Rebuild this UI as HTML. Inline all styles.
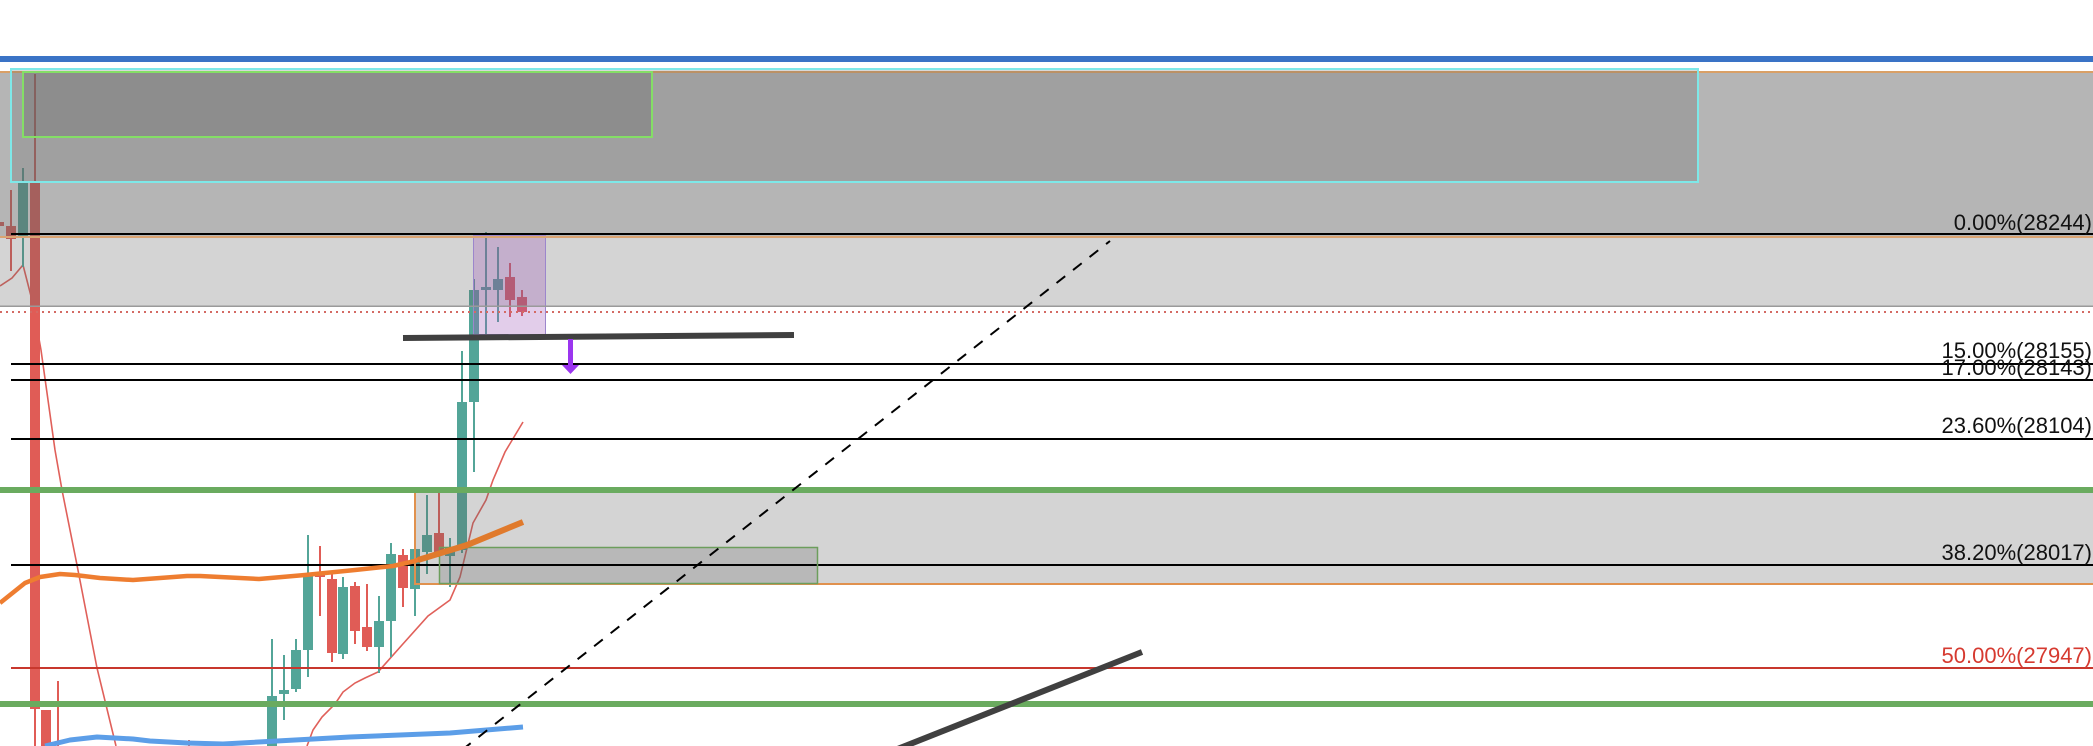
<!DOCTYPE html>
<html>
<head>
<meta charset="utf-8">
<style>
  html,body{margin:0;padding:0;background:#fff;overflow:hidden;}
  svg{display:block;}
  text{font-family:"Liberation Sans",sans-serif;font-size:22px;}
</style>
</head>
<body>
<svg width="2093" height="746" viewBox="0 0 2093 746" xmlns="http://www.w3.org/2000/svg">
  <rect x="0" y="0" width="2093" height="746" fill="#ffffff"/>

  <!-- orange top line (under overlays) -->
  <rect x="0" y="71" width="2093" height="2" fill="#d9a066"/>

  <!-- red EMA thin (under overlays) -->
  <polyline fill="none" stroke="#e0605a" stroke-width="1.6" points="0,286 12,278 23,265 32,300 41,350 55,450 62,490 77,565 97,668 116,746"/>
  <polyline fill="none" stroke="#e0605a" stroke-width="1.6" points="307,746 313,730 322,717 335,704 343,692 355,683 365,678 378,672 402,645 428,616 450,600 460,577 473,523 486,500 493,480 505,452 523,422"/>

  <!-- candles -->
  <g fill="#e05c56">
    <rect x="0" y="222" width="4" height="4"/>
    <rect x="10" y="190" width="2" height="81"/><rect x="6" y="226" width="10" height="13"/>
    <rect x="34" y="74" width="2" height="109"/><rect x="30" y="183" width="10" height="526"/>
    <rect x="34" y="709" width="2" height="37"/>
    <rect x="41" y="710" width="10" height="36"/>
    <rect x="57" y="681" width="2" height="65"/>
    <rect x="188" y="740" width="2" height="6"/>
    <rect x="319" y="546" width="2" height="70"/><rect x="315" y="574" width="10" height="3"/>
    <rect x="331" y="574" width="2" height="88"/><rect x="327" y="579" width="10" height="74"/>
    <rect x="354" y="582" width="2" height="62"/><rect x="350" y="586" width="10" height="45"/>
    <rect x="366" y="584" width="2" height="67"/><rect x="362" y="627" width="10" height="20"/>
    <rect x="402" y="549" width="2" height="58"/><rect x="398" y="555" width="10" height="33"/>
    <rect x="438" y="493" width="2" height="64"/><rect x="434" y="533" width="10" height="22"/>
    <rect x="509" y="263" width="2" height="54"/><rect x="505" y="277" width="10" height="23"/>
    <rect x="521" y="290" width="2" height="26"/><rect x="517" y="297" width="10" height="15"/>
  </g>
  <g fill="#53a598">
    <rect x="22" y="168" width="2" height="99"/><rect x="18" y="183" width="10" height="54"/>
    <rect x="271" y="639" width="2" height="107"/><rect x="267" y="696" width="10" height="50"/>
    <rect x="283" y="655" width="2" height="65"/><rect x="279" y="690" width="10" height="4"/>
    <rect x="295" y="639" width="2" height="53"/><rect x="291" y="650" width="10" height="39"/>
    <rect x="307" y="535" width="2" height="142"/><rect x="303" y="576" width="10" height="74"/>
    <rect x="342" y="577" width="2" height="82"/><rect x="338" y="587" width="10" height="67"/>
    <rect x="378" y="596" width="2" height="77"/><rect x="374" y="621" width="10" height="26"/>
    <rect x="390" y="543" width="2" height="114"/><rect x="386" y="554" width="10" height="67"/>
    <rect x="414" y="540" width="2" height="76"/><rect x="410" y="549" width="10" height="40"/>
    <rect x="426" y="495" width="2" height="79"/><rect x="422" y="535" width="10" height="17"/>
    <rect x="449" y="538" width="2" height="49"/><rect x="445" y="548" width="10" height="8"/>
    <rect x="461" y="351" width="2" height="202"/><rect x="457" y="402" width="10" height="148"/>
    <rect x="473" y="279" width="2" height="193"/><rect x="469" y="290" width="10" height="112"/>
    <rect x="485" y="232" width="2" height="103"/><rect x="481" y="287" width="10" height="3"/>
    <rect x="497" y="247" width="2" height="75"/><rect x="493" y="279" width="10" height="11"/>
  </g>

  <!-- overlays -->
  <rect x="0" y="73" width="2093" height="163" fill="rgba(100,100,100,0.48)"/>
  <rect x="0" y="238" width="2093" height="68" fill="rgba(100,100,100,0.277)"/>
  <rect x="10" y="68" width="1688" height="115" fill="rgba(100,100,100,0.25)"/>
  <rect x="23" y="72" width="629" height="65" fill="rgba(100,100,100,0.3)"/>
  <rect x="415" y="493" width="1678" height="91" fill="rgba(100,100,100,0.277)"/>
  <rect x="439" y="547" width="379" height="37" fill="rgba(100,100,100,0.25)"/>
  <rect x="473.5" y="235.5" width="72" height="99" fill="rgba(158,88,185,0.3)" stroke="#9c86cc" stroke-width="1"/>

  <!-- top blue line -->
  <rect x="0" y="56" width="2093" height="6" fill="#3a73c6"/>

  <!-- rect borders -->
  <rect x="11" y="69" width="1687" height="113" fill="none" stroke="#7ee8e8" stroke-width="2"/>
  <rect x="23" y="72" width="629" height="65" fill="none" stroke="#84de66" stroke-width="2"/>

  <!-- fib lines -->
  <rect x="11" y="233" width="2082" height="2" fill="#000"/>
  <rect x="0" y="236" width="2093" height="2" fill="#dba472"/>
  <rect x="0" y="305.5" width="2093" height="1.5" fill="#9a9a9a"/>
  <line x1="0" y1="312" x2="2093" y2="312" stroke="#d46a64" stroke-width="2" stroke-dasharray="2 4"/>
  <rect x="11" y="363" width="2082" height="2" fill="#000"/>
  <rect x="11" y="379" width="2082" height="2" fill="#000"/>
  <rect x="11" y="438" width="2082" height="2" fill="#000"/>
  <rect x="11" y="564" width="2082" height="2" fill="#000"/>
  <rect x="11" y="667" width="2082" height="2" fill="#c8372d"/>

  <!-- green lines -->
  <rect x="0" y="487" width="2093" height="6" fill="#6aab5f"/>
  <rect x="0" y="701" width="2093" height="6" fill="#6aab5f"/>

  <!-- lower zone borders -->
  <rect x="414" y="493" width="2" height="92" fill="#e0914e"/>
  <rect x="414" y="583" width="1679" height="2" fill="#e0914e"/>
  <rect x="439.5" y="547.5" width="378" height="36" fill="none" stroke="#6c9e5c" stroke-width="1.5"/>

  <!-- orange EMA -->
  <polyline fill="none" stroke="#ee7d30" stroke-width="4.5" stroke-linejoin="round" points="0,603 25,583 40,577 60,574 75,575 100,578 133,580 187,576 200,576 259,579 305,575 355,570 393,566 415,561 420,559"/>
  <polyline fill="none" stroke="#e07a2c" stroke-width="6" stroke-linecap="butt" points="418,560 467,545 523,522"/>

  <!-- blue EMA -->
  <polyline fill="none" stroke="#5c9ee8" stroke-width="5" stroke-linejoin="round" points="45,746 70,740 97,737 133,739 150,741 187,743 223,744 350,737 450,733 523,727"/>

  <!-- dashed trend -->
  <line x1="462" y1="750" x2="1110" y2="241" stroke="#000" stroke-width="2" stroke-dasharray="11 10"/>

  <!-- dark bars -->
  <line x1="403" y1="338" x2="794" y2="335" stroke="#404040" stroke-width="6"/>
  <line x1="895" y1="750" x2="1142" y2="652" stroke="#404040" stroke-width="6"/>

  <!-- purple arrow -->
  <rect x="568" y="339" width="5" height="27" fill="#9b35ef"/>
  <polygon points="562,365 579,365 570.5,374" fill="#9b35ef"/>

  <!-- labels -->
  <g text-anchor="end" fill="#111">
    <text x="2092" y="230">0.00%(28244)</text>
    <text x="2092" y="358">15.00%(28155)</text>
    <text x="2092" y="375">17.00%(28143)</text>
    <text x="2092" y="433">23.60%(28104)</text>
    <text x="2092" y="560">38.20%(28017)</text>
    <text x="2092" y="663" fill="#d63a30">50.00%(27947)</text>
  </g>
</svg>
</body>
</html>
